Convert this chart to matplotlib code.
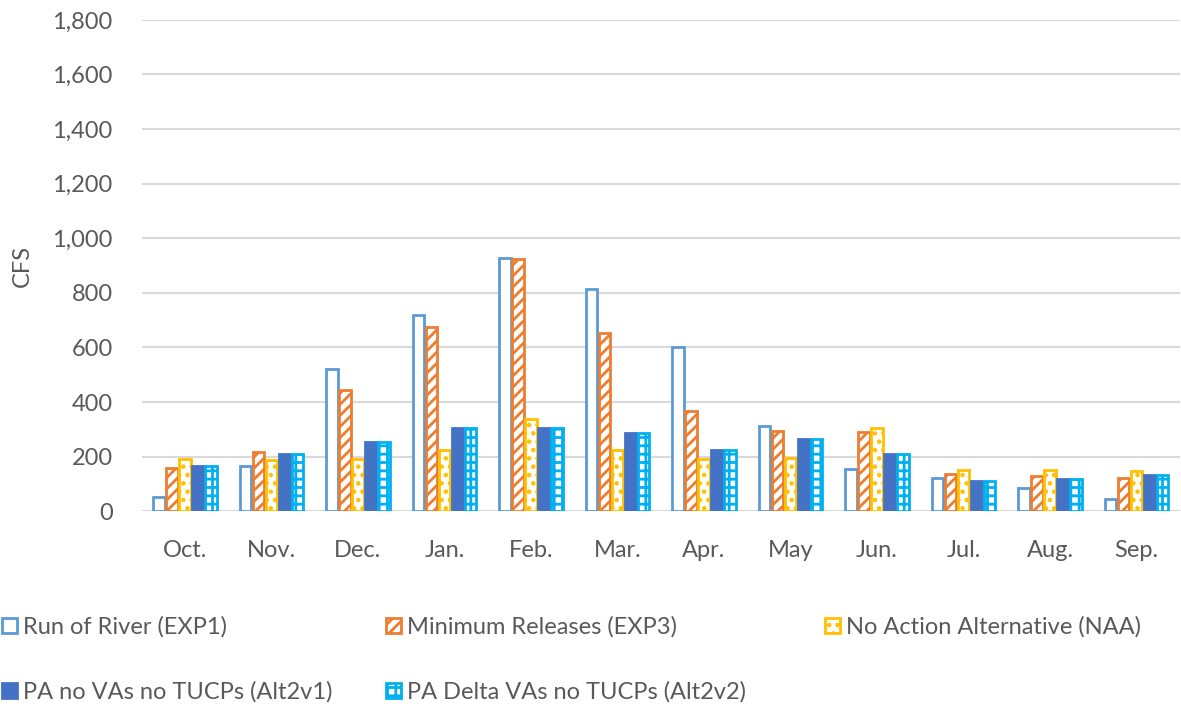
import matplotlib.pyplot as plt
import numpy as np

plt.rcParams['font.family'] = ['Lato', 'DejaVu Sans']
plt.rcParams['hatch.linewidth'] = 2.0

months = ['Oct.', 'Nov.', 'Dec.', 'Jan.', 'Feb.', 'Mar.', 'Apr.', 'May', 'Jun.', 'Jul.', 'Aug.', 'Sep.']

exp1 = [51, 167, 520, 720, 927, 813, 602, 312, 156, 122, 85, 46]
exp3 = [159, 216, 445, 676, 924, 651, 367, 292, 290, 136, 128, 120]
naa = [190, 187, 193, 225, 336, 224, 193, 194, 305, 150, 150, 148]
alt2v1 = [165, 209, 253, 303, 303, 285, 224, 264, 210, 112, 117, 132]
alt2v2 = [165, 209, 253, 303, 303, 285, 224, 264, 210, 112, 117, 132]

labels = ['Run of River (EXP1)', 'Minimum Releases (EXP3)', 'No Action Alternative (NAA)',
          'PA no VAs no TUCPs (Alt2v1)', 'PA Delta VAs no TUCPs (Alt2v2)']

fig = plt.figure(figsize=(11.81, 7.09), dpi=100)
ax = fig.add_axes([0.12, 0.279, 0.879, 0.693])

x = np.arange(len(months))
slot = 0.15
w = 0.13

# (values, face, edge, hatch)
series = [
    (exp1, 'white', '#5B9BD5', None),
    (exp3, 'white', '#ED7D31', '///'),
    (naa, 'white', '#FFC000', '..'),
    (alt2v1, '#4472C4', '#4472C4', None),
    (alt2v2, 'white', '#00B0F0', '++'),
]

handles = []
for i, (vals, fc, ec, h) in enumerate(series):
    b = ax.bar(x + (i - 2) * slot, vals, w, facecolor=fc, edgecolor=ec,
               hatch=h, linewidth=2, label=labels[i], zorder=3)
    handles.append(b)

ax.set_ylim(0, 1800)
ax.set_xlim(-0.5, len(months) - 0.5)
ax.set_yticks(np.arange(0, 1801, 200))
ax.yaxis.set_major_formatter(plt.FuncFormatter(lambda v, p: f'{int(v):,}'))
ax.set_xticks(x)
ax.set_xticklabels(months)
ax.tick_params(length=0, labelsize=17, colors='#595959')
ax.tick_params(axis='x', pad=21)
ax.tick_params(axis='y', pad=21)
ax.grid(axis='y', color='#D9D9D9', linewidth=1.5, zorder=0)
for s in ax.spines.values():
    s.set_visible(False)
ax.axhline(0, color='#D9D9D9', linewidth=1.5, zorder=2)

fig.text(0.019, 0.625, 'CFS', rotation=90, fontsize=17, color='#595959', va='center', ha='center')

# legend laid out row by row: one legend per column, placed where the reference has them
columns = [[0, 3], [1, 4], [2]]
col_x = [2 / 1181, 386 / 1181, 825 / 1181]
for idx, cx in zip(columns, col_x):
    leg = fig.legend(handles=[handles[k] for k in idx], labels=[labels[k] for k in idx],
                     loc='upper left', bbox_to_anchor=(cx, 0.131), ncol=1,
                     borderpad=0, borderaxespad=0, frameon=False, fontsize=17,
                     labelcolor='#595959', handlelength=0.64, handleheight=0.64,
                     handletextpad=0.25, labelspacing=1.85)

fig.savefig('out.png', dpi=100)
